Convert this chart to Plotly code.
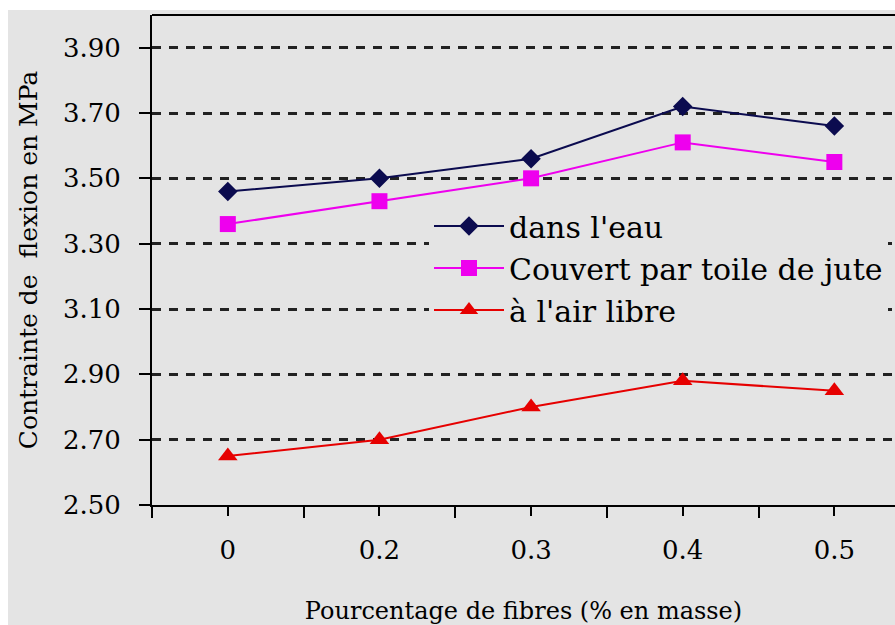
import plotly.graph_objects as go

# Fibre content (% by mass) and flexural stress (MPa) for three curing conditions
fibres = ["0", "0.2", "0.3", "0.4", "0.5"]
dans_eau = [3.46, 3.50, 3.56, 3.72, 3.66]
toile_jute = [3.36, 3.43, 3.50, 3.61, 3.55]
air_libre = [2.65, 2.70, 2.80, 2.88, 2.85]

series = [
    ("dans l'eau", dans_eau, "#0b0b4f", "diamond", 15),
    ("Couvert par toile de jute", toile_jute, "#ee00ee", "square", 16),
    ("à l'air libre", air_libre, "#e60000", "triangle-up", 17),
]

W, H = 895, 625
ML, MR, MT, MB = 152, 0, 15, 120
BG = "#e4e4e4"
FONT = "DejaVu Serif, serif"

x_idx = list(range(len(fibres)))

fig = go.Figure()
for i, (name, vals, color, symbol, size) in enumerate(series):
    fig.add_trace(go.Scatter(
        x=x_idx, y=vals, name=name, mode="lines+markers",
        line=dict(color=color, width=2),
        marker=dict(symbol=symbol, size=size, color=color),
        legendgroup=f"g{i}",
    ))

pw = W - ML - MR
ph = H - MT - MB
# white strips along the top and left edges of the image
shapes = [
    dict(type="rect", xref="paper", yref="paper", layer="below",
         x0=-ML / pw, x1=(8 - ML) / pw, y0=-MB / ph, y1=(H - MB) / ph,
         fillcolor="white", line=dict(width=0)),
    dict(type="rect", xref="paper", yref="paper", layer="below",
         x0=-ML / pw, x1=1.0, y0=(H - MB - 10) / ph, y1=(H - MB) / ph,
         fillcolor="white", line=dict(width=0)),
    # top frame line of the plot area
    dict(type="line", xref="paper", yref="paper", x0=0, x1=1, y0=1, y1=1,
         line=dict(color="black", width=2)),
]

fig.update_layout(
    width=W, height=H,
    margin=dict(l=ML, r=MR, t=MT, b=MB),
    paper_bgcolor=BG, plot_bgcolor=BG,
    font=dict(family=FONT, color="black", size=26),
    shapes=shapes,
    showlegend=True,
    legend=dict(
        x=(429 - ML) / pw, y=(505 - 200) / ph, xanchor="left", yanchor="top",
        bgcolor=BG, font=dict(family=FONT, size=30),
        itemwidth=70, tracegroupgap=12, traceorder="normal",
    ),
    xaxis=dict(
        range=[-0.5, 4.4], tickmode="array", tickvals=x_idx, ticktext=fibres,
        showgrid=False, zeroline=False,
        showline=True, linecolor="black", linewidth=2,
        ticks="outside", ticklen=9, tickwidth=2, tickcolor="black",
        ticklabelstandoff=12,
        minor=dict(tickmode="linear", tick0=-0.5, dtick=1, ticks="outside",
                   ticklen=11, tickwidth=2, tickcolor="black", showgrid=False),
        tickfont=dict(family=FONT, size=26),
        title=dict(text="Pourcentage de fibres (% en masse)",
                   font=dict(family=FONT, size=24), standoff=39),
    ),
    yaxis=dict(
        range=[2.5, 4.0], tick0=2.5, dtick=0.2, tickformat=".2f",
        showgrid=True, gridcolor="#222222", gridwidth=2.5, griddash="9px,8px",
        zeroline=False, showline=True, linecolor="black", linewidth=2,
        ticks="outside", ticklen=11, tickwidth=2, tickcolor="black",
        ticklabelstandoff=13,
        tickfont=dict(family=FONT, size=26),
        title=dict(text="Contrainte de  flexion en MPa",
                   font=dict(family=FONT, size=25), standoff=18),
    ),
)

fig.write_html("out.html")
